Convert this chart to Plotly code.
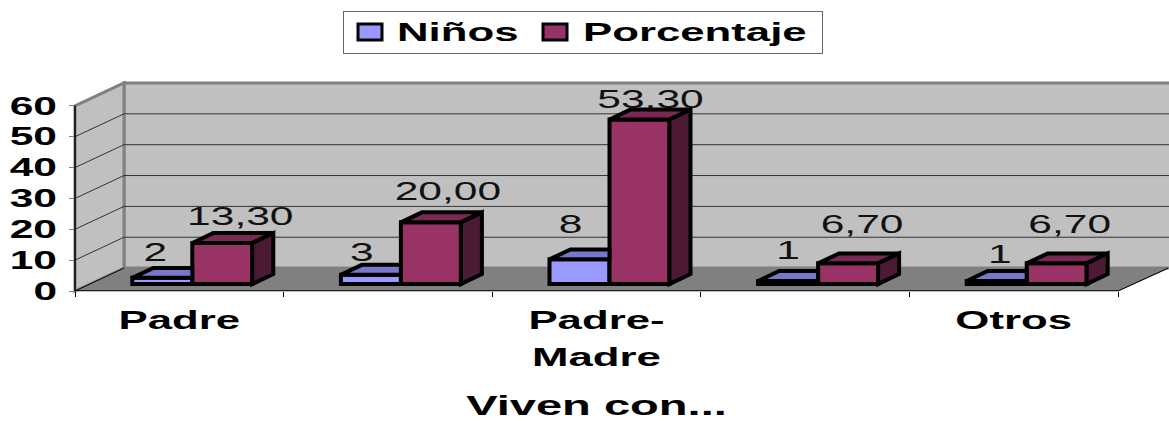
import plotly.graph_objects as go

categories = ["Padre", "", "Padre-<br>Madre", "", "Otros"]
ninos = [2, 3, 8, 1, 1]
porcentaje = [13.3, 20.0, 53.3, 6.7, 6.7]
y_ticks = [0, 10, 20, 30, 40, 50, 60]
series_names = ["Niños", "Porcentaje"]
axis_title = "Viven con..."

# geometry of the pseudo-3D box (pixels)
W, H = 1169, 421
L, R, T60, B = 75, 1118, 105, 291
PX_X = (R - L) / len(categories)
PX_Y = (B - T60) / 60
Y_MAX = 70
T = B - Y_MAX * PX_Y
BACK_DX, BACK_DY = 49, 23
BAR_W = 60 / PX_X
BAR_SHIFT = 13 / PX_X
BASE = 7 / PX_Y
DX, DY = 21 / PX_X, 10 / PX_Y

centers = [i + 0.5 + BAR_SHIFT for i in range(len(categories))]
x_n = [c - BAR_W / 2 for c in centers]
x_p = [c + BAR_W / 2 for c in centers]

def px(x):
    return (x - L) / (R - L)
def py(y):
    return (B - y) / (B - T)
def poly(points):
    return "M" + " L".join(f"{px(a):.5f},{py(b):.5f}" for a, b in points) + " Z"

WALL, FLOOR, EDGE, GRID = "#C0C0C0", "#808080", "#808080", "#333333"
shapes = [
    dict(type="path", path=poly([(L + BACK_DX, T60 - BACK_DY), (W + 5, T60 - BACK_DY), (W + 5, B - BACK_DY), (L + BACK_DX, B - BACK_DY)]),
         fillcolor=WALL, line=dict(color=EDGE, width=3)),
    dict(type="path", path=poly([(L, T60), (L + BACK_DX, T60 - BACK_DY), (L + BACK_DX, B - BACK_DY), (L, B)]),
         fillcolor=WALL, line=dict(color=EDGE, width=3)),
    dict(type="path", path=poly([(L, B), (L + BACK_DX, B - BACK_DY), (W, B - BACK_DY), (R, B)]),
         fillcolor=FLOOR, line=dict(color=FLOOR, width=1)),
]
for v in y_ticks[1:-1]:
    yp = B - v * PX_Y
    shapes.append(dict(type="line", x0=px(L), y0=py(yp), x1=px(L + BACK_DX), y1=py(yp - BACK_DY),
                       line=dict(color=GRID, width=1)))
    shapes.append(dict(type="line", x0=px(L + BACK_DX), y0=py(yp - BACK_DY), x1=px(W), y1=py(yp - BACK_DY),
                       line=dict(color=GRID, width=1)))
shapes.append(dict(type="line", x0=px(R), y0=py(B), x1=px(R + 50), y1=py(B - 23), line=dict(color="black", width=1)))
shapes.append(dict(type="line", x0=px(L), y0=py(B), x1=px(L + BACK_DX), y1=py(B - BACK_DY), line=dict(color="black", width=1)))
shapes.append(dict(type="line", x0=px(L), y0=py(B), x1=px(L), y1=py(T60), line=dict(color="black", width=1.5)))
for s in shapes:
    s.update(xref="paper", yref="paper", layer="below")

def face(polys):
    xs, ys = [], []
    for p in polys:
        xs += [a for a, _ in p] + [p[0][0], None]
        ys += [b for _, b in p] + [p[0][1], None]
    return xs, ys

fig = go.Figure()
OUT = dict(color="black", width=4)
fig.add_bar(x=x_n, y=ninos, base=BASE, width=BAR_W, name=series_names[0],
            marker=dict(color="#9999FF", line=OUT), cliponaxis=False, hoverinfo="skip")
fig.add_bar(x=x_p, y=porcentaje, base=BASE, width=BAR_W, name=series_names[1],
            marker=dict(color="#993366", line=OUT), cliponaxis=False, hoverinfo="skip")

# depth faces
n_top = []
for x, v in zip(x_n, ninos):
    t = BASE + v
    a, b = x - BAR_W / 2, x + BAR_W / 2
    n_top.append([(a, t), (a + DX, t + DY), (b, t + DY), (b, t)])
p_top, p_side = [], []
for x, v in zip(x_p, porcentaje):
    t = BASE + v
    a, b = x - BAR_W / 2, x + BAR_W / 2
    p_top.append([(a, t), (a + DX, t + DY), (b + DX, t + DY), (b, t)])
    p_side.append([(b, t), (b + DX, t + DY), (b + DX, BASE + DY), (b, BASE)])
for polys, col in ((n_top, "#7777CC"), (p_top, "#7A2952"), (p_side, "#4D1A33")):
    xs, ys = face(polys)
    fig.add_scatter(x=xs, y=ys, mode="lines", fill="toself", fillcolor=col, line=OUT,
                    showlegend=False, cliponaxis=False, hoverinfo="skip")

# data labels
lift_n = [23, 20, 33, 28, 24]
lift_p = [24, 29, 18, 37, 37]
nudge_n = [-7, -9, -9, 0, 3]
nudge_p = [18, 17, 11, 14, 13]
LABEL = dict(family="Liberation Sans", size=25, color="#111111")
fig.add_scatter(x=[x + n / PX_X for x, n in zip(x_n, nudge_n)],
                y=[BASE + v + l / PX_Y for v, l in zip(ninos, lift_n)],
                text=[str(v) for v in ninos], mode="text", textposition="middle center",
                textfont=LABEL, showlegend=False, cliponaxis=False, hoverinfo="skip")
fig.add_scatter(x=[x + n / PX_X for x, n in zip(x_p, nudge_p)],
                y=[BASE + v + l / PX_Y for v, l in zip(porcentaje, lift_p)],
                text=[f"{v:.2f}".replace(".", ",") for v in porcentaje], mode="text", textposition="middle center",
                textfont=LABEL, showlegend=False, cliponaxis=False, hoverinfo="skip")

# floor front edge, on the axis that carries the category-boundary tick marks
fig.add_scatter(x=[0, len(categories)], y=[0, 0], xaxis="x2", mode="lines", line=dict(color="black", width=1.5),
                showlegend=False, hoverinfo="skip", cliponaxis=False)

BOLD = dict(family="Liberation Sans", size=25, color="black")
fig.update_layout(
    width=W, height=H, margin=dict(l=L, r=W - R, t=T, b=H - B), autosize=False,
    paper_bgcolor="white", plot_bgcolor="rgba(0,0,0,0)", barmode="overlay", font=BOLD,
    shapes=shapes,
    xaxis=dict(range=[0, len(categories)], tickmode="array", tickvals=[i + 0.5 for i in range(len(categories))],
               ticktext=[f"<b>{c.replace('<br>', '</b><br><b>')}</b>" if c else "" for c in categories],
               ticks="", showgrid=False, zeroline=False, showline=False, ticklabelstandoff=12,
               tickangle=0, tickfont=BOLD,
               title=dict(text=f"<b>{axis_title}</b>", font=dict(family="Liberation Sans", size=28, color="black"))),
    xaxis2=dict(range=[0, len(categories)], overlaying="x", anchor="y", tickmode="array",
                tickvals=list(range(len(categories) + 1)), ticktext=[""] * (len(categories) + 1),
                ticks="outside", ticklen=5, tickcolor="black", side="bottom", showgrid=False, zeroline=False, showline=False),
    yaxis=dict(range=[0, Y_MAX], tickmode="array", tickvals=y_ticks, ticktext=[f"<b>{v}</b>" for v in y_ticks],
               ticks="outside", ticklen=5, tickcolor=EDGE, showgrid=False, zeroline=False,
               showline=False, tickfont=BOLD, ticklabelstandoff=7),
    legend=dict(orientation="h", x=(582.5 - L) / (R - L), xanchor="center", y=(B - 11) / (B - T), yanchor="top",
                bgcolor="white", bordercolor="#666666", borderwidth=1, traceorder="normal",
                font=dict(family="Liberation Sans", size=25, color="black", weight="bold")),
)

post = """
document.body.style.margin='0';
function stretch(e,k){
  var kids=e.querySelectorAll('tspan.line');
  var list=kids.length?Array.from(kids):[e];
  list.forEach(function(t){
    var l=t.getComputedTextLength();
    if(l>0){t.setAttribute('textLength',(l*k).toFixed(1));t.setAttribute('lengthAdjust','spacingAndGlyphs');}
  });
}
document.querySelectorAll('svg.main-svg text').forEach(function(t){
  var k=1.70;
  if(t.closest('.legend')||t.closest('.xtick')) k=1.75;
  if(t.classList.contains('xtitle')) k=1.68;
  stretch(t,k);
});
var xt=document.querySelector('text.xtitle');
if(xt){xt.setAttribute('y','415');xt.removeAttribute('transform');}
document.querySelectorAll('.xtick tspan.line').forEach(function(t){
  if(t.getAttribute('dy') && parseFloat(t.getAttribute('dy'))!==0){t.setAttribute('dy','37px');}
});
var lg=document.querySelector('.legend');
if(lg){
  lg.setAttribute('transform','translate(343,11)');
  var bg=lg.querySelector('rect.bg');
  bg.setAttribute('x','0');bg.setAttribute('y','0');
  bg.setAttribute('width','479');bg.setAttribute('height','42');
  var sb=lg.querySelector('.scrollbox');
  sb.removeAttribute('clip-path');sb.setAttribute('transform','translate(0,0)');
  var org=[7,192],tx=[47,48];
  lg.querySelectorAll('.traces').forEach(function(g,i){
    g.setAttribute('transform','translate('+org[i]+',21)');
    var t=g.querySelector('text');t.setAttribute('x',tx[i]);
    t.setAttribute('y','9');
    g.querySelectorAll('.legendpoints path').forEach(function(p){
      p.setAttribute('d','M12,8H-12V-8H12Z');
      p.style.strokeWidth='3px';
    });
  });
}
"""
fig.write_html("out.html", post_script=post, config=dict(displayModeBar=False))
